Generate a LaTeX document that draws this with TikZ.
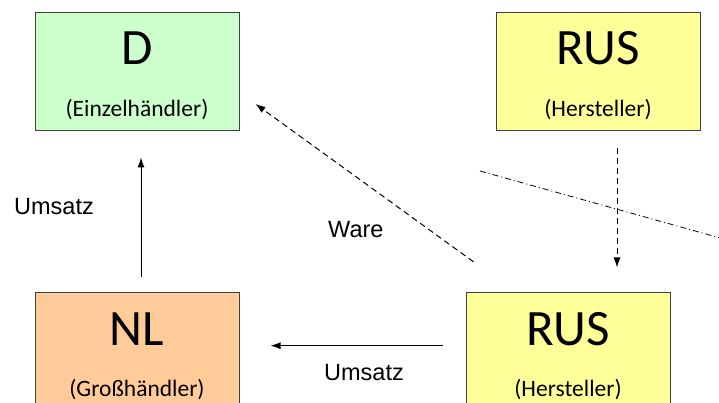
\documentclass[tikz,border=0pt]{standalone}
\usepackage{fontspec}
\setmainfont{Carlito}
\newfontfamily\labelfont{Liberation Sans}
\usetikzlibrary{arrows.meta,positioning,calc}
\definecolor{ink}{HTML}{000000}
\definecolor{frame}{HTML}{404040}
\definecolor{retail}{HTML}{CCFFCC}
\definecolor{maker}{HTML}{FFFF99}
\definecolor{whole}{HTML}{FFCC99}
\tikzset{
  country/.style={draw=frame,fill=#1,line width=1pt,minimum width=204pt,minimum height=118pt,inner sep=0pt},
  bigtag/.style={anchor=base,inner sep=0pt,text=ink,font=\fontsize{51}{51}\selectfont},
  roletag/.style={anchor=base,inner sep=0pt,text=ink,font=\fontsize{23.5}{23.5}\selectfont},
  flowlabel/.style={anchor=base west,inner sep=0pt,text=ink,font=\labelfont\fontsize{23.5}{23.5}\selectfont},
  money/.style={-{Latex[length=10pt,width=7pt]},line width=1pt,draw=ink},
  goods/.style={-{Latex[length=10pt,width=7pt]},line width=1pt,draw=ink,dash pattern=on 6pt off 4pt},
  border/.style={line width=0.8pt,draw=ink,dash pattern=on 6pt off 3pt on 1pt off 3pt}
}

\begin{document}
\begin{tikzpicture}[x=1pt,y=1pt]
  \useasboundingbox (0,0) rectangle (719,403);
  \clip (0,0) rectangle (719,403);
  % boxes
  \node[country=retail] (d) at (137,331.5) {};
  \node[country=maker] (rusA) at (598,331.5) {};
  \node[country=whole] (nl) at (137,51.7) {};
  \node[country=maker] (rusB) at (568,51.7) {};
  \node[bigtag] (dT) at ([yshift=-53pt]d.north) {D};
  \node[roletag] (dR) at ([yshift=-105pt]d.north) {(Einzelhändler)};
  \node[bigtag] (rusAT) at ([yshift=-53pt]rusA.north) {RUS};
  \node[roletag] (rusAR) at ([yshift=-105pt]rusA.north) {(Hersteller)};
  \node[bigtag] (nlT) at ([yshift=-54pt]nl.north) {NL};
  \node[roletag] (nlR) at ([yshift=-105pt]nl.north) {(Großhändler)};
  \node[bigtag] (rusBT) at ([yshift=-54pt]rusB.north) {RUS};
  \node[roletag] (rusBR) at ([yshift=-105pt]rusB.north) {(Hersteller)};
  % flows
  \draw[money,shorten <=15pt,shorten >=26.5pt] ([xshift=4pt]nl.north) -- ([xshift=4pt]d.south);
  \draw[money,shorten <=23pt,shorten >=31pt] ([yshift=5.6pt]rusB.west) -- ([yshift=5.6pt]nl.east);
  \draw[goods,shorten <=17.5pt,shorten >=24.3pt] ([xshift=19pt]rusA.south) -- ([xshift=19pt]rusA.south |- rusB.north);
  \coordinate (wareA) at ($(rusB.north west)+(8,30)$);
  \coordinate (wareB) at ($(d.east)+(16,-32.5)$);
  \draw[goods] (wareA) -- (wareB);
  \coordinate (lineA) at (480,232);
  \coordinate (lineB) at (740,159.5);
  \draw[border] (lineA) -- (lineB);
  % labels
  \node[flowlabel] (umsatzL) at (14,188) {Umsatz};
  \node[flowlabel] (ware) at (328,165) {Ware};
  \node[flowlabel] (umsatzB) at (324,22) {Umsatz};
\end{tikzpicture}
\end{document}
